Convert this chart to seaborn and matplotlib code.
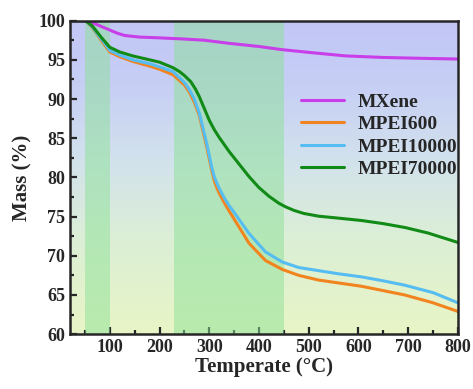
import numpy as np
import pandas as pd
import seaborn as sns
import matplotlib.pyplot as plt
from matplotlib.colors import LinearSegmentedColormap
from matplotlib.ticker import MultipleLocator

# %%
# Values
mxene_t = [20, 50, 57, 70, 85, 100, 115, 130, 160, 200, 250, 290, 340, 400, 446, 500, 574, 650, 720, 800]
mxene_m = [100, 100, 99.9, 99.6, 99.2, 98.8, 98.4, 98.1, 97.9, 97.8, 97.65, 97.5, 97.1, 96.7, 96.3, 95.95, 95.5, 95.3, 95.2, 95.1]

mpei600_t = [20, 50, 55, 65, 75, 85, 100, 120, 146, 180, 200, 227, 250, 260, 270, 280, 290, 295, 300, 305, 310, 315,
             320, 330, 340, 347, 380, 413, 447, 480, 520, 607, 693, 750, 800]
mpei600_m = [100, 100, 99.8, 99.1, 98.2, 97.3, 96.0, 95.4, 94.8, 94.2, 93.8, 93.1, 91.8, 90.9, 89.6, 87.9, 85.2, 83.9, 82.4, 80.9, 79.6, 78.7,
             78.0, 76.8, 75.7, 75.0, 71.6, 69.4, 68.25, 67.5, 66.9, 66.1, 65.0, 64.0, 62.9]

mpei10000_t = [20, 50, 55, 65, 75, 85, 100, 120, 146, 180, 200, 227, 250, 260, 270, 280, 290, 295, 300, 305, 310, 315,
               320, 330, 340, 347, 380, 413, 447, 480, 520, 560, 607, 650, 693, 750, 800]
mpei10000_m = [100, 100, 99.8, 99.2, 98.3, 97.5, 96.2, 95.6, 95.0, 94.5, 94.1, 93.5, 92.1, 91.2, 90.0, 88.2, 85.6, 84.3, 82.8, 81.3, 80.1, 79.3,
               78.6, 77.4, 76.4, 75.8, 72.85, 70.5, 69.2, 68.5, 68.1, 67.7, 67.3, 66.8, 66.25, 65.3, 64.0]

mpei70000_t = [20, 50, 55, 65, 75, 85, 100, 120, 146, 180, 200, 227, 240, 250, 263, 272, 280, 290, 300, 310, 320, 340,
               360, 380, 400, 420, 440, 455, 470, 490, 520, 560, 606, 650, 694, 740, 770, 800]
mpei70000_m = [100, 100, 99.8, 99.3, 98.5, 97.7, 96.6, 96.0, 95.5, 95.0, 94.7, 94.0, 93.5, 93.0, 92.2, 91.3, 90.3, 88.8, 87.3, 86.1, 85.1, 83.3,
               81.7, 80.1, 78.7, 77.6, 76.7, 76.2, 75.8, 75.4, 75.05, 74.8, 74.5, 74.1, 73.6, 72.9, 72.3, 71.7]

series_names = ['MXene', 'MPEI600', 'MPEI10000', 'MPEI70000']
series_colors = ['#c83ee8', '#f2841f', '#56bdf2', '#118a16']

# %%
# Long-form table for seaborn
frames = []
for name, t, m in zip(series_names,
                      [mxene_t, mpei600_t, mpei10000_t, mpei70000_t],
                      [mxene_m, mpei600_m, mpei10000_m, mpei70000_m]):
    frames.append(pd.DataFrame({'T': t, 'mass': m, 'sample': name}))
tga_df = pd.concat(frames, ignore_index=True)

# %%
sns.set_style('ticks')
plt.rcParams['font.family'] = ['Liberation Serif', 'DejaVu Serif']
plt.rcParams['font.weight'] = 'bold'
plt.rcParams['axes.labelweight'] = 'bold'

fig = plt.figure(figsize=(4.73, 3.89), dpi=100)
ax = fig.add_axes([0.148, 0.141, 0.820, 0.806])

# gradient background: lavender at top to pale yellow-green at bottom
bg_cmap = LinearSegmentedColormap.from_list(
    'bg', [(0.0, '#e8f5c6'), (0.3, '#dcefd6'), (0.55, '#d2e2ec'), (0.8, '#c6cef5'), (1.0, '#c2c6f6')])
grad = np.linspace(0, 1, 256).reshape(-1, 1)
ax.imshow(grad, extent=[20, 800, 60, 100], origin='lower', aspect='auto', cmap=bg_cmap, zorder=0)

# highlighted temperature ranges
for lo, hi in [(50, 100), (230, 450)]:
    ax.axvspan(lo, hi, color='#8ce196', alpha=0.5, lw=0, zorder=1)

sns.lineplot(data=tga_df, x='T', y='mass', hue='sample', hue_order=series_names,
             palette=series_colors, sort=False, estimator=None, lw=2.2, ax=ax, zorder=3)

ax.set_xlim(20, 800)
ax.set_ylim(60, 100)
ax.xaxis.set_major_locator(MultipleLocator(100))
ax.xaxis.set_minor_locator(MultipleLocator(50))
ax.yaxis.set_major_locator(MultipleLocator(5))
ax.yaxis.set_minor_locator(MultipleLocator(2.5))
ax.tick_params(which='both', direction='in', width=1.6, labelsize=13)
ax.tick_params(which='major', length=5)
ax.tick_params(which='minor', length=3)
for sp in ax.spines.values():
    sp.set_linewidth(1.8)
    sp.set_zorder(5)

ax.set_xlabel('Temperate (°C)', fontsize=15, labelpad=1)
ax.set_ylabel('Mass (%)', fontsize=15, labelpad=4)

ax.legend(loc='upper left', bbox_to_anchor=(0.55, 0.825), frameon=False, fontsize=14,
          handlelength=2.2, handletextpad=0.7, labelspacing=0.25)

fig.savefig('out.png', dpi=100)
